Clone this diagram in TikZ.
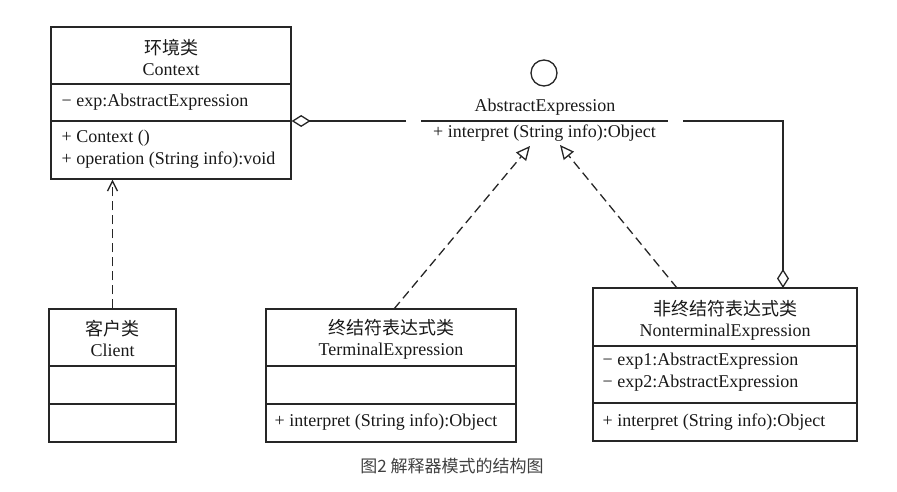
\documentclass[tikz,border=0pt]{standalone}
\usepackage{fontspec}
\setmainfont{Liberation Serif}
\newfontfamily\cjk{Noto Sans CJK SC}
\usetikzlibrary{arrows.meta}

\begin{document}
\begin{tikzpicture}[x=1pt,y=-1pt,line width=1.3pt,
	classbox/.style={draw=black!85,inner sep=0pt},
	boxtext/.style={inner sep=0pt,align=center,text=black!90,font=\fontsize{18}{21}\selectfont},
	membertext/.style={inner sep=0pt,anchor=west,align=left,text=black!90,font=\fontsize{18}{21.5}\selectfont},
	aggregation/.style={draw=black!85,-{Diamond[open,length=19pt,width=12pt]}},
	realize/.style={draw=black!85,dash pattern=on 9pt off 5pt,-{Triangle[open,length=14pt,width=13pt]}},
	depend/.style={draw=black!85,dash pattern=on 9pt off 5pt,-{Straight Barb[length=10pt,width=10pt]}}]

\useasboundingbox (0,0) rectangle (897,492);

% classes
\node[classbox,minimum width=240pt,minimum height=152pt] (context) at (171,103) {};
\node[classbox,minimum width=127pt,minimum height=133pt] (client) at (112.5,375.5) {};
\node[classbox,minimum width=250pt,minimum height=133pt] (terminal) at (391,375.5) {};
\node[classbox,minimum width=264pt,minimum height=153pt] (nonterminal) at (725,364.5) {};

\foreach \ycoord in {84,121} {
	\draw[black!85] (context.west |- 0,\ycoord)--(context.east |- 0,\ycoord);
}
\foreach \ycoord in {366,404} {
	\draw[black!85] (client.west |- 0,\ycoord)--(client.east |- 0,\ycoord);
	\draw[black!85] (terminal.west |- 0,\ycoord)--(terminal.east |- 0,\ycoord);
}
\foreach \ycoord in {346,403} {
	\draw[black!85] (nonterminal.west |- 0,\ycoord)--(nonterminal.east |- 0,\ycoord);
}

\node[boxtext] (contextname) at (171,57) {{\cjk 环境类}\\Context};
\node[membertext] (contextattr) at (61,102) {− exp:AbstractExpression};
\node[membertext] (contextops) at (61,149) {+ Context ()\\+ operation (String info):void};

\node[boxtext] (clientname) at (112.5,338.5) {{\cjk 客户类}\\Client};

\node[boxtext] (terminalname) at (391,339) {{\cjk 终结符表达式类}\\TerminalExpression};
\node[membertext] (terminalops) at (274,422) {+ interpret (String info):Object};

\node[boxtext] (nonterminalname) at (725,320) {{\cjk 非终结符表达式类}\\NonterminalExpression};
\node[membertext] (nonterminalattr) at (602,372) {− exp1:AbstractExpression\\− exp2:AbstractExpression};
\node[membertext] (nonterminalops) at (602,422) {+ interpret (String info):Object};

% interface
\node[draw=black!85,circle,minimum size=26pt,inner sep=0pt] (iface) at (544,73) {};
\node[boxtext] (ifacename) at (545,107) {AbstractExpression};
\coordinate (sepleft) at (421,121);
\coordinate (sepright) at (668,121);
\draw[black!85] (sepleft)--(sepright);
\node[boxtext] (ifaceops) at (544.5,133) {+ interpret (String info):Object};

% connectors
\coordinate (aggleft) at (406,121);
\draw[aggregation] (aggleft)--(context.east |- aggleft);
\coordinate (aggright) at (683,121);
\coordinate (aggdown) at (783,288);
\draw[aggregation] (aggright) -| (aggdown);

\coordinate (terminaltop) at (394,309);
\coordinate (tipleft) at (530,146);
\draw[realize] (terminaltop)--(tipleft);
\coordinate (nonterminaltop) at (677,288);
\coordinate (tipright) at (560,145);
\draw[realize] (nonterminaltop)--(tipright);

\draw[depend] (client.north)--(client.north |- context.south);

\node[inner sep=0pt,text=black!75,font=\cjk\fontsize{17}{17}\selectfont] (caption) at (452,466) {图2 解释器模式的结构图};

\end{tikzpicture}
\end{document}
